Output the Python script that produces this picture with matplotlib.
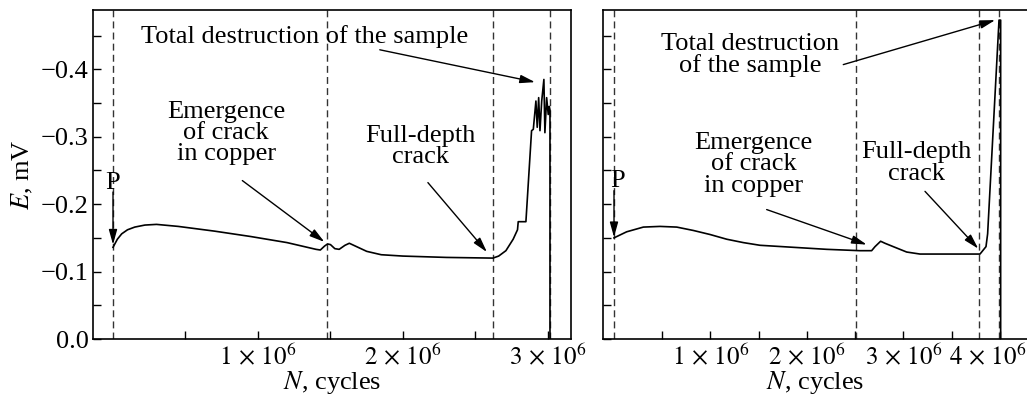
import matplotlib.pyplot as plt
from matplotlib.ticker import FixedLocator, FuncFormatter
from matplotlib.transforms import ScaledTranslation

plt.rcParams['font.family'] = ['Liberation Serif', 'DejaVu Serif']
plt.rcParams['mathtext.fontset'] = 'stix'

# N in millions of cycles, E in mV
n_left = [0.00, 0.03, 0.06, 0.10, 0.15, 0.22, 0.30, 0.45, 0.70, 0.95, 1.20, 1.40,
          1.43, 1.46, 1.48, 1.50, 1.53, 1.56, 1.60, 1.63, 1.68, 1.75, 1.85, 2.00,
          2.30, 2.62, 2.66, 2.71, 2.76, 2.79, 2.795, 2.848, 2.887, 2.899, 2.917,
          2.926, 2.936, 2.945, 2.957, 2.972, 2.979, 2.991, 3.002, 3.009, 3.014, 3.014]
e_left = [-0.136, -0.148, -0.156, -0.162, -0.166, -0.169, -0.170, -0.167, -0.160,
          -0.152, -0.143, -0.133, -0.132, -0.138, -0.141, -0.140, -0.134, -0.133,
          -0.139, -0.142, -0.137, -0.130, -0.125, -0.123, -0.121, -0.120, -0.123,
          -0.131, -0.148, -0.162, -0.174, -0.174, -0.309, -0.311, -0.353, -0.314,
          -0.358, -0.309, -0.353, -0.385, -0.306, -0.358, -0.333, -0.345, -0.340, 0.0]

n_right = [0.00, 0.131, 0.304, 0.477, 0.65, 0.822, 0.995, 1.168, 1.34, 1.513, 1.858,
           2.204, 2.549, 2.67, 2.705, 2.763, 2.808, 2.894, 3.033, 3.171, 3.412, 3.793,
           3.855, 3.872, 3.99, 4.007, 4.007]
e_right = [-0.150, -0.159, -0.166, -0.167, -0.166, -0.161, -0.155, -0.148, -0.143,
           -0.139, -0.136, -0.133, -0.131, -0.131, -0.137, -0.145, -0.142, -0.137,
           -0.129, -0.126, -0.126, -0.126, -0.137, -0.156, -0.473, -0.473, 0.0]

# stage markers: start, crack in copper, full-depth crack, destruction
stages_left = [0.0, 1.478, 2.619, 3.014]
stages_right = [0.0, 2.505, 3.782, 3.993]

y_ticks = [0.0, -0.1, -0.2, -0.3, -0.4]
y_minor = [-0.05, -0.15, -0.25, -0.35, -0.45]

fs = 19
arrow = dict(arrowstyle='-|>,head_length=0.9,head_width=0.25', color='black',
             lw=1.0, shrinkA=0, shrinkB=0, mutation_scale=10)

fig = plt.figure(figsize=(10.27, 3.94), dpi=100)
ax1 = fig.add_axes([93 / 1027, 55 / 394, 478 / 1027, 329 / 394])
ax2 = fig.add_axes([603 / 1027, 55 / 394, 424 / 1027, 329 / 394])


def style(ax, xlim, majors, minors):
    ax.set_xlim(*xlim)
    ax.set_ylim(0, -0.488)
    ax.xaxis.set_major_locator(FixedLocator(majors))
    ax.xaxis.set_minor_locator(FixedLocator(minors))
    ax.xaxis.set_major_formatter(FuncFormatter(lambda v, p: r'$%d\,\times\,10^6$' % round(v)))
    ax.yaxis.set_major_locator(FixedLocator(y_ticks))
    ax.yaxis.set_minor_locator(FixedLocator(y_minor))
    ax.tick_params(which='both', direction='in', length=6, width=1.0,
                   top=False, right=False, labelsize=fs, pad=3)
    ax.tick_params(axis='x', labelsize=fs - 1)
    for s in ax.spines.values():
        s.set_linewidth(1.2)
    ax.set_xlabel('$N$, cycles', fontsize=fs, labelpad=0)


style(ax1, (-0.138, 3.159), [1, 2, 3], [0.5, 1.5, 2.5])
style(ax2, (-0.114, 4.28), [1, 2, 3, 4], [0.5, 1.5, 2.5, 3.5])
ax2.spines['right'].set_visible(False)
ax2.tick_params(labelleft=False)
ax1.yaxis.set_major_formatter(FuncFormatter(lambda v, p: ('%.1f' % v).replace('-', '\u2212')))
ax1.set_ylabel('$E$, mV', fontsize=fs, labelpad=4)

for ax, n, e, st in [(ax1, n_left, e_left, stages_left), (ax2, n_right, e_right, stages_right)]:
    for s in st:
        ax.axvline(s, color='#333333', lw=1.0, ls=(0, (5, 3)))
    ax.plot(n, e, color='black', lw=1.2)

# left panel annotations
ax1.text(0.0, -0.232, 'P', fontsize=fs, ha='center', va='center')
ax1.annotate('', xy=(0.0, -0.140), xytext=(0.0, -0.218), arrowprops=arrow)
ax1.text(1.32, -0.449, 'Total destruction of the sample', fontsize=fs, ha='center', va='center')
ax1.annotate('', xy=(2.911, -0.381), xytext=(1.84, -0.429), arrowprops=arrow)
ax1.text(0.78, -0.306, 'Emergence\nof crack\nin copper', fontsize=fs, ha='center',
         va='center', linespacing=0.95)
ax1.annotate('', xy=(1.458, -0.144), xytext=(0.892, -0.235), arrowprops=arrow)
ax1.text(2.123, -0.285, 'Full-depth\ncrack', fontsize=fs, ha='center', va='center',
         linespacing=0.95)
ax1.annotate('', xy=(2.579, -0.129), xytext=(2.172, -0.232), arrowprops=arrow)

# right panel annotations
ax2.text(0.034, -0.235, 'P', fontsize=fs, ha='center', va='center')
ax2.annotate('', xy=(0.0, -0.151), xytext=(0.0, -0.220), arrowprops=arrow)
ax2.text(1.41, -0.421, 'Total destruction\nof the sample', fontsize=fs, ha='center',
         va='center', linespacing=0.95)
ax2.annotate('', xy=(3.95, -0.473), xytext=(2.376, -0.407), arrowprops=arrow)
ax2.text(1.444, -0.259, 'Emergence\nof crack\nin copper', fontsize=fs, ha='center',
         va='center', linespacing=0.95)
ax2.annotate('', xy=(2.619, -0.140), xytext=(1.582, -0.192), arrowprops=arrow)
ax2.text(3.137, -0.261, 'Full-depth\ncrack', fontsize=fs, ha='center', va='center',
         linespacing=0.95)
ax2.annotate('', xy=(3.775, -0.134), xytext=(3.223, -0.219), arrowprops=arrow)

# last label of the right panel sits a bit left so it stays inside the figure
last = ax2.xaxis.get_major_ticks()[-1].label1
last.set_transform(last.get_transform() + ScaledTranslation(-0.12, 0, fig.dpi_scale_trans))

fig.savefig('out.png', dpi=100)
